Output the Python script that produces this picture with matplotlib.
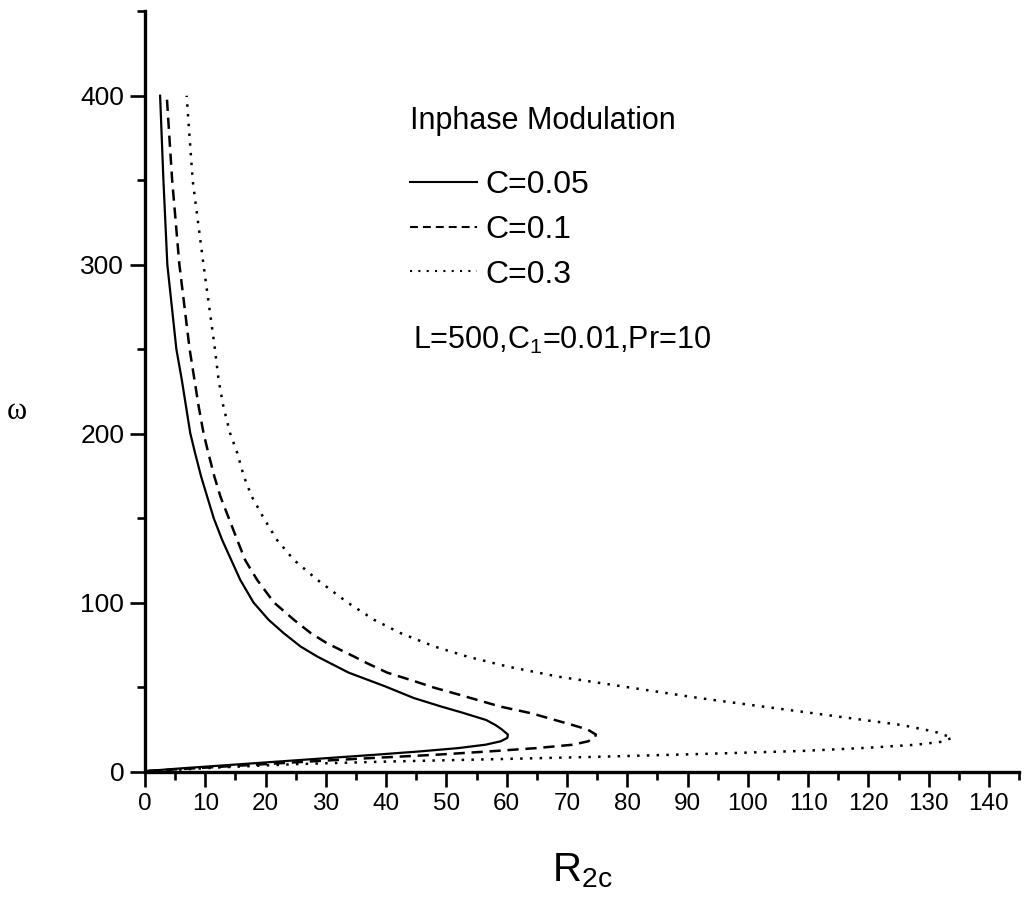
import matplotlib
matplotlib.use("Agg")
import matplotlib.pyplot as plt
from matplotlib.lines import Line2D
from matplotlib.ticker import MultipleLocator

plt.rcParams["font.family"] = ["Liberation Sans", "DejaVu Sans"]
plt.rcParams["mathtext.fontset"] = "custom"
plt.rcParams["mathtext.rm"] = "Liberation Sans"

# C = 0.05 (solid): omega, R2c
w_c005 = [0.5, 2, 4, 6, 8, 10, 12, 14, 16, 18, 20, 22, 25, 27.5, 30.6, 35, 38.5, 43.6, 50.7, 58.6, 68.1, 74.1,
          82, 89.9, 100.1, 113.5, 125.3, 137.1, 150, 162.9, 174.7, 188.6, 200.4, 216.1, 231.9,
          250, 300, 350, 400]
r_c005 = [0.5, 6, 14, 22, 30, 38, 45.5, 52, 56.5, 59, 60.1, 60.2, 59.2, 58.2, 56.6, 52.6, 49.2, 44.6, 39.7, 33.8,
          28.6, 25.8, 23, 20.5, 18, 15.8, 14.3, 12.8, 11.4, 10.3, 9.3, 8.3, 7.5, 6.8, 6.1,
          5.2, 3.7, 3.05, 2.5]

# C = 0.1 (dashed)
w_c01 = [0.5, 2, 4, 6, 8, 10, 12, 14, 16, 18, 20, 22, 25, 28, 31, 34.5, 38.5, 45.8, 49.7, 53.7, 58.6,
         64.1, 68.1, 76, 82, 89.9, 100.1, 113.5, 125.3, 137.1, 150, 162.9, 174.7, 188.6, 200.4, 216.1,
         231.9, 250, 300, 350, 400]
r_c01 = [0.5, 8, 17.5, 27, 37, 48, 57, 65, 71, 73.5, 74.6, 74.8, 73.4, 70.6, 67.6, 64.2, 59, 51.9, 48, 44.6, 40.2,
         36.9, 34.7, 30.2, 27.5, 24.7, 21.4, 18.6, 16.6, 15.3, 13.9, 12.5, 11.5, 10.5, 9.7, 8.9,
         8.2, 7.4, 5.7, 4.5, 3.6]

# C = 0.3 (dotted)
w_c03 = [0.3, 2.5, 4.5, 6, 7.5, 8.9, 10.5, 12.3, 14.2, 16, 17.8, 20.1, 23.7, 27.6, 35.5, 43.4, 52.4, 56.3,
         62.2, 68.1, 74.1, 82, 89.9, 100.1, 113.5, 125.3, 137.1, 150, 162.9, 174.7, 188.6, 200.4, 216.1,
         231.9, 250, 300, 350, 400]
r_c03 = [0.8, 12, 25, 40, 59, 75.7, 92.3, 109, 120, 128, 132.3, 133.9, 131, 125.6, 109, 92.3, 75.7, 68.5,
         60.2, 53.5, 48, 42.4, 38, 33.6, 28.6, 24.7, 21.9, 19.7, 17.7, 16.4, 15.3, 14.1, 13.0,
         12.2, 11.6, 9.7, 7.9, 6.9]

labels = ["C=0.05", "C=0.1", "C=0.3"]

fig = plt.figure(figsize=(10.25, 9.06), dpi=100)
ax = fig.add_axes([0.1415, 0.1482, 0.8527, 0.8394])

ax.plot(r_c005, w_c005, color="black", lw=1.6, ls="-")
ax.plot(r_c01, w_c01, color="black", lw=1.8, ls=(0, (4.5, 2.7)))
ax.plot(r_c03, w_c03, color="black", lw=1.8, ls=(0, (1, 2.9)))

ax.set_xlim(0, 145)
ax.set_ylim(0, 450)
ax.xaxis.set_major_locator(MultipleLocator(10))
ax.xaxis.set_minor_locator(MultipleLocator(5))
ax.yaxis.set_major_locator(MultipleLocator(100))
ax.yaxis.set_minor_locator(MultipleLocator(50))

for s in ["top", "right"]:
    ax.spines[s].set_visible(False)
for s in ["left", "bottom"]:
    ax.spines[s].set_linewidth(2.4)

ax.tick_params(which="major", direction="out", length=11, width=1.9, pad=4)
ax.tick_params(which="minor", direction="out", length=6, width=1.9)
ax.tick_params(axis="x", labelsize=17.5)
ax.tick_params(axis="y", labelsize=19)

ax.set_xlabel(r"R$_\mathregular{2c}$", fontsize=29)
ax.xaxis.set_label_coords(0.5, -0.105)
ax.set_ylabel("ω", fontsize=22, rotation=0, family="Liberation Serif")
ax.yaxis.set_label_coords(-0.147, 0.455)

# legend handles (the legend uses shorter dashes than the curves)
handles = [Line2D([], [], color="black", lw=1.5, ls="-"),
           Line2D([], [], color="black", lw=1.5, ls=(0, (3.8, 2.4))),
           Line2D([], [], color="black", lw=1.5, ls=(0, (1, 3)))]
leg = ax.legend(handles, labels, title="Inphase Modulation", loc="upper left",
                bbox_to_anchor=(0.303, 0.876), frameon=False, fontsize=23, title_fontsize=22,
                handlelength=2.1, handletextpad=0.25, labelspacing=0.46, borderaxespad=0,
                borderpad=0, alignment="left")
leg._legend_box.sep = 25

ax.text(0.3066, 0.567, r"L=500,C$_\mathregular{1}$=0.01,Pr=10", transform=ax.transAxes,
        fontsize=22, va="center", ha="left")

fig.savefig("out.png", dpi=100)
